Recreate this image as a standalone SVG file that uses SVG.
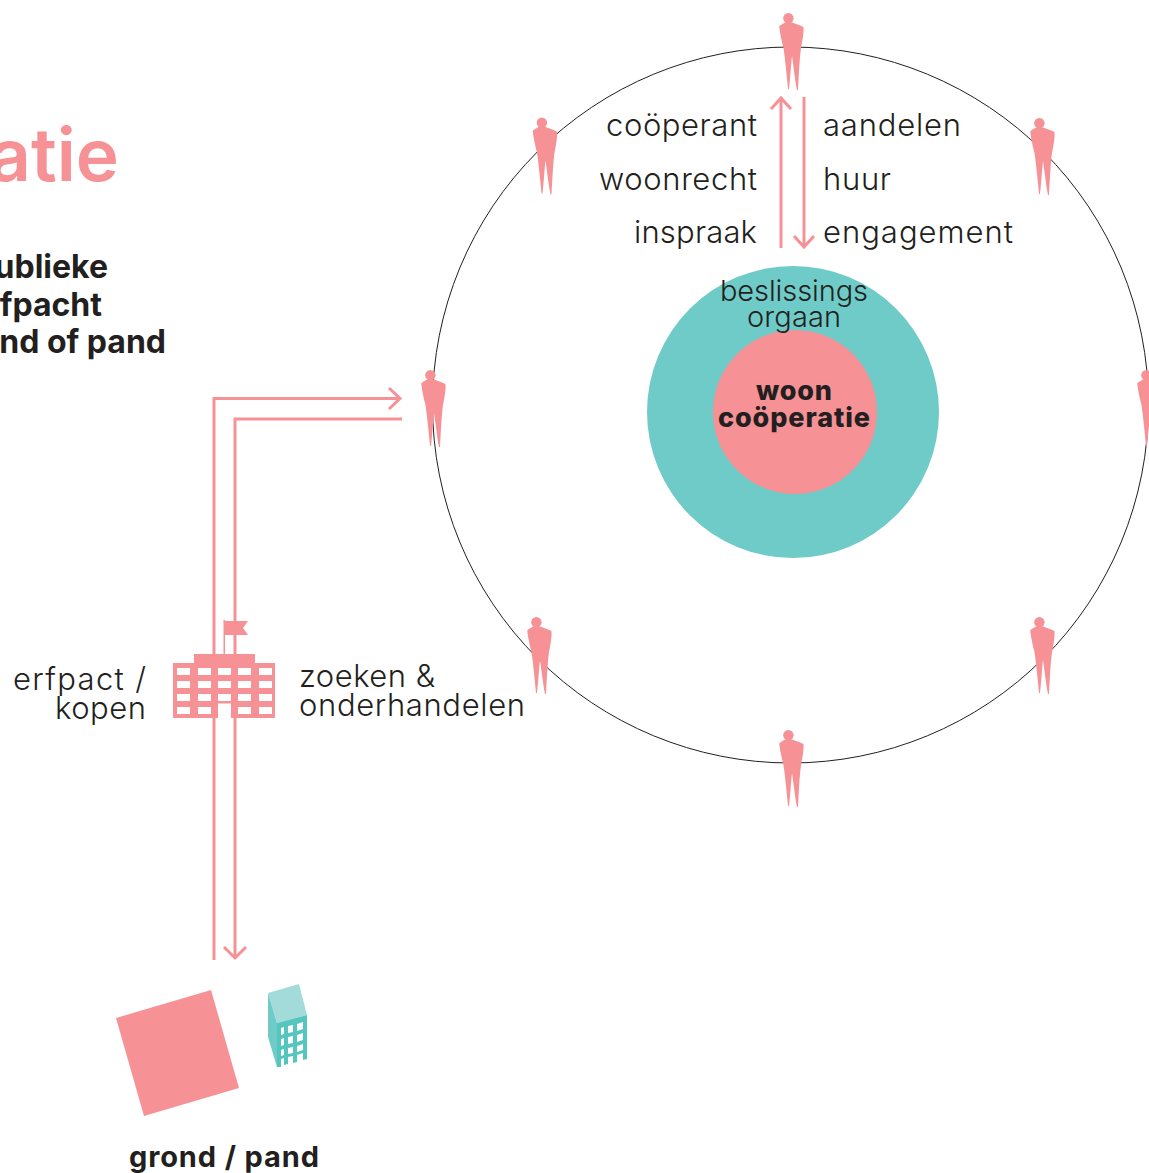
<svg xmlns="http://www.w3.org/2000/svg" width="1149" height="1173" viewBox="0 0 1149 1173">
<style>
.t{font-family:"Inter","Lato","Liberation Sans",sans-serif;font-weight:300;font-size:31px;fill:#231f20}
.b{font-family:"Inter","Lato","Liberation Sans",sans-serif;font-weight:800;fill:#231f20}
.p{fill:#f69195}
.l{fill:none;stroke:#f69195;stroke-width:3}
.e{text-anchor:end}.m{text-anchor:middle}
</style>
<defs>
<g id="person">
<circle cx="788.4" cy="18.300" r="5.200"/>
<path d="M785 22.500C782 24.500 780 25 779.300 26.200C779.500 31 781.500 40 783.500 48C785 58 786.500 74 788 89L789 89C790.500 76 791 64 792 56C793.500 66 795 80 797 90L798 90C799 72 799.500 60 801 48C802.500 40 804 33 803.500 27C800 25 795 24 792.300 22.500Z"/>
</g>
</defs>
<circle id="outer-ring" cx="790.5" cy="405" r="358" fill="none" stroke="#231f20" stroke-width="1"/>
<g id="people" class="p">
<use href="#person"/>
<use href="#person" x="-246.500" y="104.500"/>
<use href="#person" x="251" y="105"/>
<use href="#person" x="-358" y="357"/>
<use href="#person" x="358" y="357"/>
<use href="#person" x="-252" y="604"/>
<use href="#person" x="251" y="604"/>
<use href="#person" x="0" y="717"/>
</g>
<g id="org">
<circle cx="793" cy="412" r="146" fill="#6fcbc8"/>
<circle cx="795" cy="412" r="82" fill="#f69195"/>
<text class="t m" x="794" y="301" style="font-size:29px" textLength="148">beslissings</text>
<text class="t m" x="794" y="327" style="font-size:29px" textLength="94">orgaan</text>
<text class="b m" x="794" y="400" style="font-size:27px" textLength="76">woon</text>
<text class="b m" x="794" y="427" style="font-size:27px" textLength="152">coöperatie</text>
</g>
<g id="connectors">
<path class="l" d="M781 248V99M771 109L781 98L791 109"/>
<path class="l" d="M804 97V246M794 236L804 247L814 236"/>
<path class="l" d="M214 960V398.500H400M389 388L400 398.500L389 409"/>
<path class="l" d="M402 419H235V957M224 947L235 958L246 947"/>
</g>
<g id="labels">
<text class="t e" x="757" y="136" textLength="151">coöperant</text>
<text class="t e" x="757" y="190" textLength="158">woonrecht</text>
<text class="t e" x="757" y="243" textLength="123">inspraak</text>
<text class="t" x="823" y="136" textLength="138">aandelen</text>
<text class="t" x="823" y="190" textLength="68">huur</text>
<text class="t" x="823" y="243" textLength="190">engagement</text>
<text class="t e" x="146" y="690" textLength="133">erfpact /</text>
<text class="t e" x="146" y="719" textLength="91">kopen</text>
<text class="t" x="299" y="687" textLength="136">zoeken &amp;</text>
<text class="t" x="299" y="716" textLength="226">onderhandelen</text>
</g>
<g id="title">
<text x="119" y="181" text-anchor="end" style="font-family:Inter,Lato,sans-serif;font-weight:600;font-size:73px;fill:#f69195">atie</text>
<text class="b" x="108" y="278" text-anchor="end" style="font-size:32px;font-weight:700">ublieke</text>
<text class="b" x="102" y="316" text-anchor="end" style="font-size:32px;font-weight:700">fpacht</text>
<text class="b" x="166" y="353" text-anchor="end" style="font-size:32px;font-weight:700">nd of pand</text>
</g>
<g id="building" class="p">
<path d="M223.500 620H225V654H223.500Z"/>
<path d="M224 621H248L243 628L248 635H224Z"/>
<rect x="194" y="654" width="61" height="9"/>
<path fill-rule="evenodd" d="M173 663H275V718H231V703.500H218V718H173Z M177 668V675H190V668Z M198 668V675H211V668Z M218 668V675H231V668Z M238 668V675H251V668Z M259 668V675H272V668Z M177 681V688H190V681Z M198 681V688H211V681Z M218 681V688H231V681Z M238 681V688H251V681Z M259 681V688H272V681Z M177 694V701H190V694Z M198 694V701H211V694Z M218 694V701H231V694Z M238 694V701H251V694Z M259 694V701H272V694Z M177 707V714H190V707Z M198 707V714H211V707Z M238 707V714H251V707Z M259 707V714H272V707Z"/>
</g>
<g id="ground"><path class="p" d="M116 1018L211 990L239 1088L144 1116Z"/></g>
<g id="tower">
<path d="M268 993L299 984L307 1015L277 1023Z" fill="#a3dbdb"/>
<path d="M268 993L277 1023V1067L268 1037Z" fill="#6fcbc8"/>
<path fill-rule="evenodd" fill="#55c5bf" d="M277 1023L307 1015V1059L303 1060V1053L297 1055V1062L293 1063V1056L288 1057V1064L284 1065V1058L281 1059V1067L277 1067Z M281 1028V1035L284 1034V1027Z M288 1026V1033L293 1032V1025Z M297 1024V1031L303 1029V1022Z M281 1039V1046L284 1045V1038Z M288 1037V1044L293 1043V1036Z M297 1035V1042L303 1040V1033Z M281 1050V1056L284 1055V1049Z M288 1048V1054L293 1053V1047Z M297 1046V1052L303 1050V1044Z"/>
</g>
<text class="b m" x="224" y="1167" style="font-size:29px;font-weight:700" textLength="190">grond / pand</text>
</svg>
